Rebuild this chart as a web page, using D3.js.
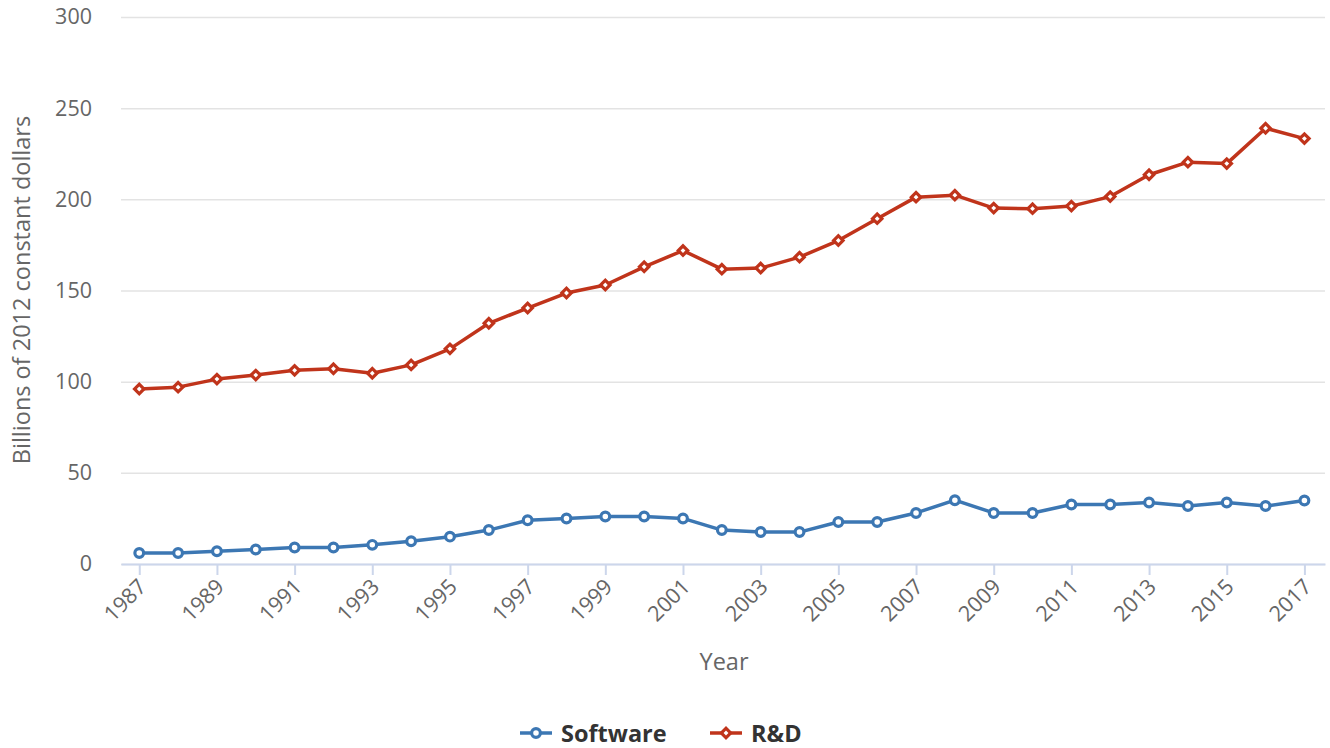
<!DOCTYPE html>
<html>
<head>
<meta charset="utf-8">
<script src="https://cdn.jsdelivr.net/npm/d3@7"></script>
<style>
  body { margin: 0; background: #fff; }
  svg { font-family: "Open Sans", sans-serif; }
</style>
</head>
<body>
<div id="plot"></div>
<script>
// data
var years = d3.range(1987, 2018);
var software = [6, 6, 7, 8, 9, 9, 10.5, 12.5, 15, 18.6, 24, 25, 26, 26, 25, 18.6, 17.5, 17.5, 23, 23,
                28, 35, 28, 28, 32.6, 32.6, 33.7, 31.8, 33.7, 31.8, 34.8];
var rnd = [96, 97, 101.4, 103.6, 106.2, 107.1, 104.6, 109.2, 118, 132, 140.4, 148.6, 153, 163, 171.9,
           161.7, 162.3, 168.3, 177.4, 189.4, 201.2, 202.3, 195.2, 194.9, 196.3, 201.5, 213.5, 220.4,
           219.6, 239, 233.3];
var yTicks = [0, 50, 100, 150, 200, 250, 300];
var xTicks = d3.range(1987, 2018, 2);

var W = 1330, H = 748;
var margin = {t:17, r:5, b:184, l:121};
var width = W - margin.l - margin.r,
    height = H - margin.t - margin.b;

var svg = d3.select('#plot').append('svg')
    .attr('width', W).attr('height', H);

var plot = svg.append('g')
    .attr('transform', 'translate(' + margin.l + ',' + margin.t + ')');

var x = d3.scaleLinear().domain([1986.53, 2017.53]).range([0, width]);
var y = d3.scaleLinear().domain([0, 300]).range([height, 0]);

// grid
plot.selectAll('.grid').data(yTicks).enter().append('line')
    .attr('x1', 0).attr('x2', width)
    .attr('y1', function(d){ return y(d) + 0.5; })
    .attr('y2', function(d){ return y(d) + 0.5; })
    .style('stroke', '#e3e3e3').style('stroke-width', 1.5);

// y labels
var yAxis = plot.append('g').call(d3.axisLeft(y).tickValues(yTicks).tickSize(0).tickPadding(29));
yAxis.select('.domain').remove();
yAxis.selectAll('text').style('font-size', '21.5px').style('fill', '#666')
    .style('font-family', '"Open Sans", sans-serif');

// x axis
var xAxis = plot.append('g').attr('transform', 'translate(0,' + height + ')')
    .call(d3.axisBottom(x).tickValues(xTicks).tickFormat(d3.format('d')).tickSize(11).tickSizeOuter(0));
xAxis.select('.domain').style('stroke', '#ccd6eb').style('stroke-width', 2);
xAxis.selectAll('.tick line').style('stroke', '#ccd6eb').style('stroke-width', 2);
xAxis.selectAll('text')
    .style('font-size', '21.5px').style('fill', '#666')
    .style('font-family', '"Open Sans", sans-serif')
    .style('text-anchor', 'end')
    .attr('dy', 0).attr('y', 0)
    .attr('transform', 'translate(8,24) rotate(-45)');

// titles
svg.append('text').attr('x', margin.l + width / 2 + 1).attr('y', 670)
    .attr('text-anchor', 'middle').style('font-size', '23.5px').style('fill', '#666')
    .text('Year');
svg.append('text').attr('transform', 'translate(30,290) rotate(-90)')
    .attr('text-anchor', 'middle').style('font-size', '23.5px').style('fill', '#666')
    .text('Billions of 2012 constant dollars');

var series = [
    {key:'sw', name:'Software', values:software, color:'#3c77b3', symbol:d3.symbolCircle},
    {key:'rd', name:'R&D', values:rnd, color:'#c0341b', symbol:d3.symbolSquare}
];

var line = d3.line()
    .x(function(d, i){ return x(years[i]); })
    .y(function(d){ return y(d); });

function symSize(s){ return s.symbol === d3.symbolCircle ? 60 : 44; }
function symRot(s){ return s.symbol === d3.symbolSquare ? ' rotate(45)' : ''; }

series.forEach(function(s){
    plot.append('path').datum(s.values)
        .attr('d', line)
        .style('fill', 'none').style('stroke', s.color).style('stroke-width', 3.5)
        .style('stroke-linejoin', 'round');
    plot.selectAll('.pt-' + s.key).data(s.values).enter().append('path')
        .attr('class', 'pt-' + s.key)
        .attr('d', d3.symbol().type(s.symbol).size(symSize(s)))
        .attr('transform', function(d, i){ return 'translate(' + x(years[i]) + ',' + y(d) + ')' + symRot(s); })
        .style('fill', '#fff').style('stroke', s.color).style('stroke-width', 3.2);
});

// legend
var legend = svg.append('g');
var legendItems = [{s:series[0], x:520}, {s:series[1], x:710}];
legendItems.forEach(function(li){
    var g = legend.append('g').attr('transform', 'translate(' + li.x + ',733)');
    g.append('line').attr('x1', 0).attr('x2', 32).attr('y1', 0).attr('y2', 0)
        .style('stroke', li.s.color).style('stroke-width', 3.5);
    g.append('path').attr('d', d3.symbol().type(li.s.symbol).size(symSize(li.s)))
        .attr('transform', 'translate(16,0)' + symRot(li.s))
        .style('fill', '#fff').style('stroke', li.s.color).style('stroke-width', 3.2);
    g.append('text').attr('x', 41).attr('y', 8.5)
        .style('font-size', '23.5px').style('font-weight', 'bold').style('fill', '#333')
        .text(li.s.name);
});
</script>
</body>
</html>
